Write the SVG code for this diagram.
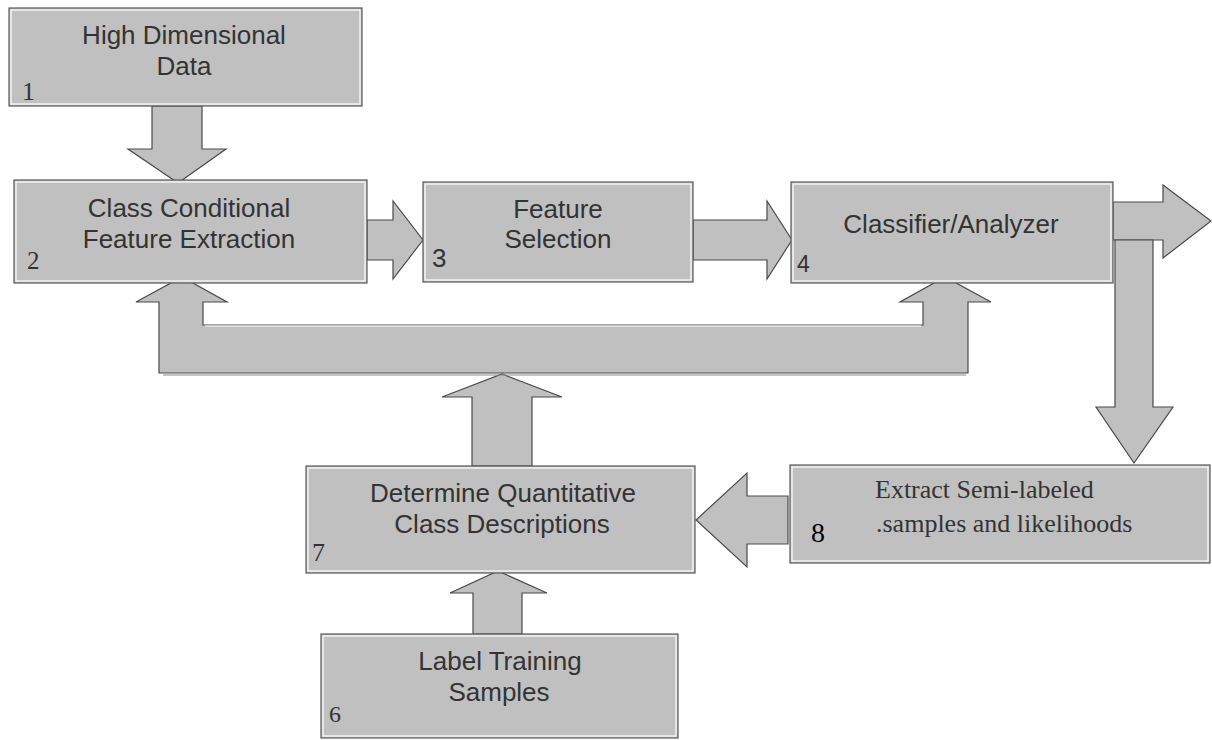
<svg xmlns="http://www.w3.org/2000/svg" width="1212" height="740" viewBox="0 0 1212 740">
<style>
.box{fill:#c0c0c0;stroke:#5a5a5a;stroke-width:1.2}
.inner{fill:none;stroke:#ffffff;stroke-width:1.2}
.arr{fill:#c0c0c0;stroke:#4a4a4a;stroke-width:1.2;stroke-linejoin:miter}
.t{font-family:"Liberation Sans",Arial,sans-serif;font-size:26px;fill:#333333;text-anchor:middle}
.ts{font-family:"Liberation Serif","Times New Roman",serif;font-size:26px;fill:#333333}
.ns{font-family:"Liberation Serif","Times New Roman",serif;fill:#333333}
.na{font-family:"Liberation Sans",Arial,sans-serif;fill:#333333}
</style>
<rect width="1212" height="740" fill="#ffffff"/>
<g id="connectors">
<polygon class="arr" points="152,106 202,106 202,149 226,149 178,183 128,149 152,149"/>
<polygon class="arr" points="367,220 393,220 393,201 423,240 393,279 393,260 367,260"/>
<polygon class="arr" points="693,220 767,220 767,201 792,240 767,279 767,260 693,260"/>
<polygon class="arr" points="1113,202 1163,202 1163,185 1211,221 1163,258 1163,240 1113,240"/>
<polygon class="arr" points="1115,240 1153,240 1153,407 1173,407 1134,463 1096,407 1115,407"/>
<polygon class="arr" points="788,496 747,496 747,473 696,520 747,567 747,544 788,544"/>
<polygon class="arr" points="472,466 472,397 442,397 502,374 562,397 532,397 532,466"/>
<polygon class="arr" points="473,634 473,593 450,593 498,571 547,593 522,593 522,634"/>
<polygon class="arr" points="159,373 159,302 136,302 182,277 227,302 203,302 203,325 923,325 923,302 900,302 945,277 991,302 968,302 968,373"/>
<polyline points="205,326 921,326" fill="none" stroke="#ffffff" stroke-width="1"/>
<polyline points="163,375 966,375" fill="none" stroke="#8a8a8a" stroke-width="1"/>
</g>
<g id="node1">
<rect class="box" x="9" y="8" width="353" height="98"/>
<rect class="inner" x="11" y="10" width="349" height="94"/>
<text class="t" x="184" y="44">High Dimensional</text>
<text class="t" x="184" y="75">Data</text>
<text class="ns" x="22" y="100" font-size="26">1</text>
</g>
<g id="node2">
<rect class="box" x="14" y="180" width="353" height="103"/>
<rect class="inner" x="16" y="182" width="349" height="99"/>
<text class="t" x="189" y="217">Class Conditional</text>
<text class="t" x="189" y="248">Feature Extraction</text>
<text class="ns" x="27" y="269" font-size="25">2</text>
</g>
<g id="node3">
<rect class="box" x="423" y="182" width="270" height="100"/>
<rect class="inner" x="425" y="184" width="266" height="96"/>
<text class="t" x="558" y="218">Feature</text>
<text class="t" x="558" y="248">Selection</text>
<text class="na" x="432" y="267" font-size="26">3</text>
</g>
<g id="node4">
<rect class="box" x="791" y="182" width="322" height="101"/>
<rect class="inner" x="793" y="184" width="318" height="97"/>
<text class="t" x="951" y="233">Classifier/Analyzer</text>
<text class="na" x="797" y="272" font-size="23">4</text>
</g>
<g id="node8">
<rect class="box" x="790" y="465" width="420" height="98"/>
<rect class="inner" x="792" y="467" width="416" height="94"/>
<text class="ts" x="875" y="498">Extract Semi-labeled</text>
<text class="ts" x="876" y="532">.samples and likelihoods</text>
<text class="ns" x="811" y="542" font-size="28" style="fill:#000000">8</text>
</g>
<g id="node7">
<rect class="box" x="306" y="466" width="389" height="107"/>
<rect class="inner" x="308" y="468" width="385" height="103"/>
<text class="t" x="503" y="502">Determine Quantitative</text>
<text class="t" x="502" y="533">Class Descriptions</text>
<text class="ns" x="312" y="561" font-size="26">7</text>
</g>
<g id="node6">
<rect class="box" x="321" y="634" width="357" height="104"/>
<rect class="inner" x="323" y="636" width="353" height="100"/>
<text class="t" x="500" y="670">Label Training</text>
<text class="t" x="499" y="701">Samples</text>
<text class="ns" x="329" y="722" font-size="24">6</text>
</g>
</svg>
